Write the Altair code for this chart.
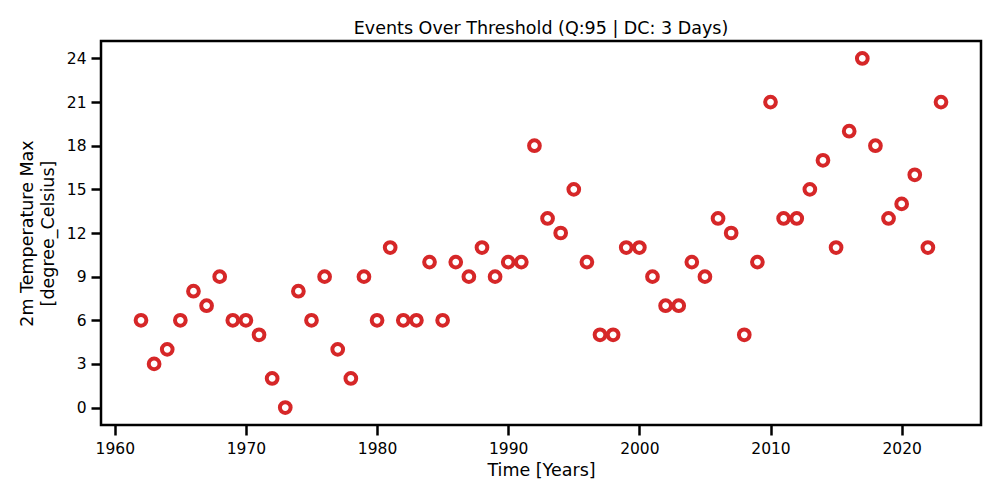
import altair as alt
import pandas as pd

years = list(range(1962, 2024))
counts = [6, 3, 4, 6, 8, 7, 9, 6, 6, 5, 2, 0, 8, 6, 9, 4, 2, 9, 6, 11,
          6, 6, 10, 6, 10, 9, 11, 9, 10, 10, 18, 13, 12, 15, 10, 5, 5, 11, 11, 9,
          7, 7, 10, 9, 13, 12, 5, 10, 21, 13, 13, 15, 17, 11, 19, 24, 18, 13, 14, 16,
          11, 21]
x_ticks = [1960, 1970, 1980, 1990, 2000, 2010, 2020]
y_ticks = [0, 3, 6, 9, 12, 15, 18, 21, 24]

df = pd.DataFrame({"year": years, "count": counts})

font = "DejaVu Sans"

chart = alt.Chart(df).mark_point(
    shape="circle", filled=False, fill="white", fillOpacity=1,
    stroke="#d62728", strokeWidth=4, size=115, opacity=1
).encode(
    x=alt.X("year:Q", scale=alt.Scale(domain=[1958.95, 2026.05], nice=False, zero=False),
            axis=alt.Axis(values=x_ticks, format="d", title="Time [Years]")),
    y=alt.Y("count:Q", scale=alt.Scale(domain=[-1.2, 25.2], nice=False, zero=False),
            axis=alt.Axis(values=y_ticks, format="d",
                          title=["2m Temperature Max", "[degree_Celsius]"])),
).properties(
    width=880, height=384,
    title=alt.TitleParams("Events Over Threshold (Q:95 | DC: 3 Days)",
                          font=font, fontSize=17.5, fontWeight="normal", color="black", offset=4),
    autosize=alt.AutoSizeParams(type="none"),
    padding={"left": 93, "top": 33, "right": 11, "bottom": 67},
).configure_view(
    stroke="black", strokeWidth=2.5
).configure_axis(
    grid=False, domain=False, ticks=True, tickColor="black", tickWidth=2.5, tickSize=10,
    labelFont=font, labelFontSize=15.5, labelColor="black", labelPadding=5,
    titleFont=font, titleFontSize=17.5, titleFontWeight="normal", titleColor="black",
).configure_axisY(titlePadding=9, titleLineHeight=21).configure_axisX(titlePadding=5, labelPadding=6)

chart.save("out.html", embed_options={"renderer": "svg", "actions": False})
